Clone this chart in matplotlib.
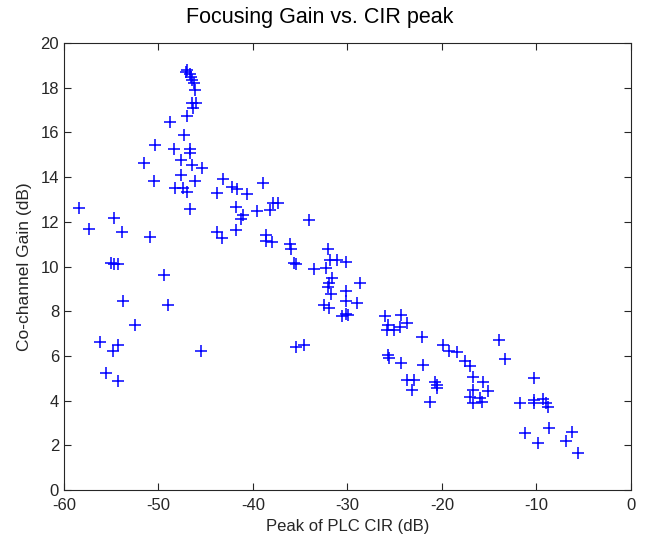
import matplotlib
matplotlib.use('Agg')
import matplotlib.pyplot as plt

# Peak of PLC CIR (dB) and co-channel gain (dB)
cir_peak = [
    -58.4, -57.4, -54.7, -53.9, -50.9, -51.5, -50.4, -50.5, -48.8, -47.0,
    -47.3, -48.4, -46.7, -46.7, -47.65, -46.5, -45.4, -47.6, -46.1, -48.3,
    -47.4, -47.0, -46.7,
    -47.0, -47.1, -46.7, -46.6, -46.4, -46.2, -46.1, -46.4, -46.0, -46.3,
    -43.2, -43.8, -42.2, -41.7, -40.6, -38.9, -41.8, -41.0, -41.3, -39.6,
    -37.85, -38.2, -37.3, -41.8, -43.8, -43.3, -38.6, -38.6, -38.0, -36.1,
    -36.0, -35.6, -35.4, -34.1,
    -55.0, -54.7, -54.25, -49.4, -53.8, -49.0, -52.5, -56.2, -54.3, -54.8,
    -45.5, -55.5, -54.3, -35.4, -34.6,
    -32.1, -31.8, -31.1, -30.1, -33.5, -32.3, -28.7, -31.6, -31.9, -32.1,
    -31.7, -30.1, -30.1, -29.0, -32.5, -31.9, -30.6, -30.2, -29.9,
    -26.0, -24.3, -25.7, -25.85, -25.1, -24.4, -23.7, -22.15, -25.7, -25.6,
    -19.9, -19.2, -18.45, -17.6, -17.0, -16.75, -13.9, -13.3, -22.0, -24.3,
    -23.7, -23.0, -23.2, -21.3, -20.7, -20.5, -20.5, -15.6, -15.1, -16.7,
    -17.0, -16.7, -16.0, -15.8, -11.7, -10.3, -10.2, -9.3, -9.0, -8.75,
    -10.2, -11.2, -9.8, -8.7, -6.2, -6.9, -5.6,
]
gain = [
    12.6, 11.68, 12.18, 11.56, 11.33, 14.65, 15.44, 13.84, 16.45, 16.73,
    15.88, 15.26, 15.24, 15.1, 14.77, 14.54, 14.39, 14.09, 13.83, 13.5,
    13.5, 13.35, 12.57,
    18.79, 18.7, 18.62, 18.48, 18.34, 18.2, 17.9, 17.3, 17.32, 17.1,
    13.9, 13.27, 13.57, 13.47, 13.23, 13.75, 12.65, 12.3, 12.11, 12.5,
    12.86, 12.53, 12.86, 11.63, 11.56, 11.26, 11.4, 11.15, 11.1, 11.0,
    10.8, 10.15, 10.1, 12.1,
    10.14, 10.1, 10.1, 9.62, 8.47, 8.28, 7.38, 6.61, 6.49, 6.23,
    6.22, 5.22, 4.88, 6.38, 6.49,
    10.8, 10.29, 10.29, 10.21, 9.87, 9.92, 9.28, 9.47, 9.28, 9.1,
    8.77, 8.92, 8.47, 8.35, 8.28, 8.13, 7.78, 7.87, 7.83,
    7.78, 7.83, 7.38, 7.16, 7.16, 7.3, 7.46, 6.83, 6.04, 5.9,
    6.49, 6.23, 6.19, 5.79, 5.55, 5.07, 6.71, 5.86, 5.59, 5.67,
    4.92, 4.92, 4.47, 3.95, 4.85, 4.7, 4.56, 4.85, 4.43, 4.47,
    4.15, 3.88, 4.1, 3.95, 3.91, 3.88, 4.03, 4.06, 3.91, 3.7,
    5.0, 2.54, 2.12, 2.76, 2.61, 2.21, 1.67,
]
x_ticks = [-60, -50, -40, -30, -20, -10, 0]
y_ticks = list(range(0, 21, 2))

plt.rcParams['font.family'] = ['Liberation Sans', 'DejaVu Sans']
plt.rcParams['axes.unicode_minus'] = False

fig = plt.figure(figsize=(6.45, 5.38), dpi=100)
ax = fig.add_axes([0.0992, 0.0892, 0.8788, 0.8308])

ax.plot(cir_peak, gain, linestyle='none', marker='+', color='#0000ff',
        markersize=9, markeredgewidth=1.1)

ax.set_xlim(-60, 0)
ax.set_ylim(0, 20)
ax.set_xticks(x_ticks)
ax.set_yticks(y_ticks)
ax.tick_params(direction='in', top=True, right=True, length=5,
               labelsize=12, colors='#262626', width=0.8)
ax.tick_params(axis='x', pad=6)
for s in ax.spines.values():
    s.set_color('#262626')
    s.set_linewidth(0.8)

ax.set_xlabel('Peak of PLC CIR (dB)', fontsize=12, color='#262626',
              labelpad=4)
ax.set_ylabel('Co-channel Gain (dB)', fontsize=12.5, color='#262626',
              labelpad=6)
fig.text(320 / 645, 1 - 17 / 538, 'Focusing Gain vs. CIR peak',
         fontsize=15.5, ha='center', va='center')

fig.savefig('out.png', dpi=100, facecolor='white')
